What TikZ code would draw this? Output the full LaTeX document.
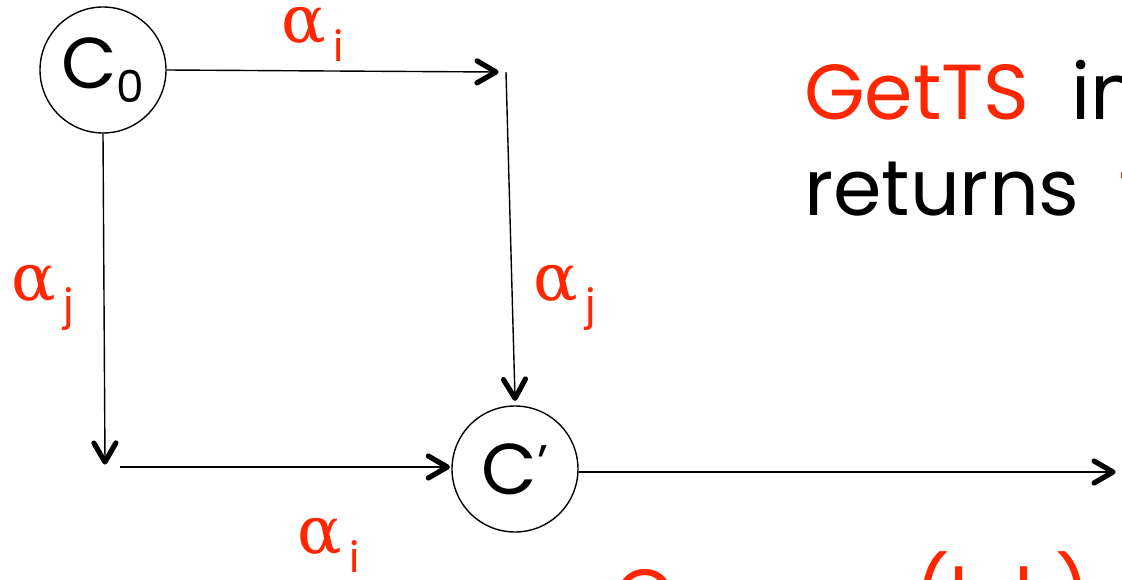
\documentclass[tikz,border=0pt]{standalone}
\usepackage{fontspec}
\usepackage{graphicx}
\setmainfont{Poppins}
\newfontfamily\grk{DejaVu Serif}
\usetikzlibrary{decorations.markings}
\definecolor{slred}{RGB}{255,38,0}
\begin{document}
\begin{tikzpicture}[x=1pt,y=-1pt,
  circ/.style={draw,circle,line width=1.4pt,minimum size=126pt,inner sep=0pt,
    font=\fontsize{72}{72}\selectfont},
  conn/.style={line width=1.4pt,shorten >=3pt,
    postaction={decorate},
    decoration={markings,mark=at position 1 with {
      \draw[line width=5.2pt,line cap=round,line join=round,shorten >=0pt]
        (-19pt,11pt) -- (0pt,0pt) -- (-19pt,-11pt);}}},
  lab/.style={anchor=base west,inner sep=0pt,text=slred},
  big/.style={anchor=base west,inner sep=0pt,font=\fontsize{78}{78}\selectfont}]
\useasboundingbox (0,0) rectangle (1122,580);
\clip (0,0) rectangle (1122,580);
\fill[white] (0,0) rectangle (1122,580);
% nodes
\node[circ] (c0) at (103,70) {C\raisebox{-14pt}{\fontsize{44}{44}\selectfont 0}};
\node[circ] (cp) at (515,469) {C\raisebox{14pt}{\fontsize{50}{50}\selectfont\textquoteright}};
\coordinate (tr) at (496,72);
\coordinate (trs) at (506,72);
\coordinate (bl) at (105,462);
\coordinate (bls) at (120,467);
\coordinate (end) at (1113,472);
% connectors
\draw[conn] (c0.east) -- (tr);
\draw[conn] (trs) -- ([yshift=7pt]cp.north);
\draw[conn] (c0.south) -- (bl);
\draw[conn] (bls) -- ([xshift=-4pt]cp.west |- bls);
\draw[conn] (cp.east |- end) -- (end);
% labels
\newcommand{\alab}[1]{{\grk\fontsize{66}{66}\selectfont α}\hspace{8pt}\raisebox{-19pt}{\fontsize{42}{42}\selectfont #1}}
\node[lab] (ai1) at (281,43) {\alab{i}};
\node[lab] (aj1) at (11,300) {\alab{j}};
\node[lab] (aj2) at (533,300) {\alab{j}};
\node[lab] (ai2) at (297,553) {\alab{i}};
% text
\node[big] (t1) at (804,120) {\textcolor{slred}{GetTS}\hspace{42pt}in};
\node[big] (t2) at (804,216) {returns\hspace{40pt}\textcolor{slred}{t}};
\node[big,text=slred] (t3) at (614,624) {Cnnnon};
\node[big,text=slred] (t4) at (914,624) {(h,k)};
\end{tikzpicture}
\end{document}
